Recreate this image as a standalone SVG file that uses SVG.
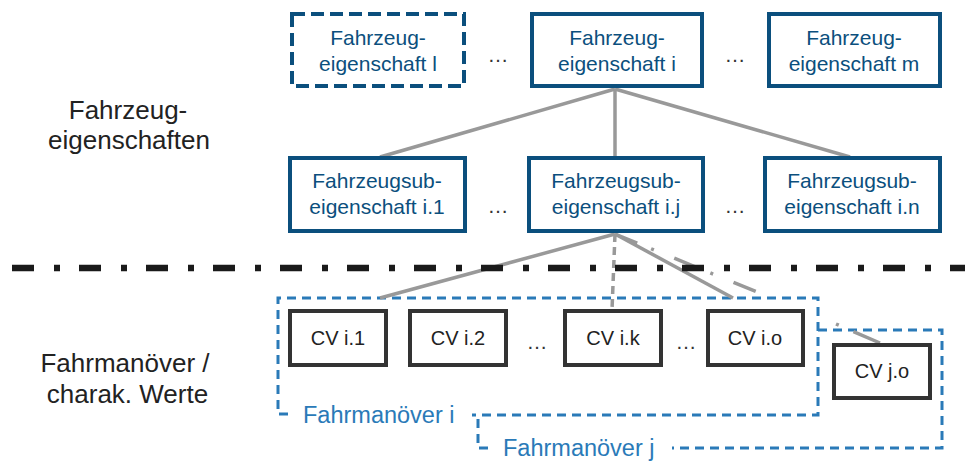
<svg xmlns="http://www.w3.org/2000/svg" width="965" height="461" viewBox="0 0 965 461">
  <style>
    .prop rect { fill: #fff; stroke: #0b4f7d; stroke-width: 4; }
    .prop text { fill: #0b4f7d; font-family: "Liberation Sans", Arial, sans-serif; font-size: 21px; text-anchor: middle; }
    .dashed rect { stroke-dasharray: 13 6; }
    .cv rect { fill: #fff; stroke: #333; stroke-width: 4; }
    .cv text { fill: #222; font-family: "Liberation Sans", Arial, sans-serif; font-size: 20px; text-anchor: middle; }
    .dots { fill: #333; font-family: "Liberation Sans", Arial, sans-serif; font-size: 21px; text-anchor: middle; }
    .side { fill: #222; font-family: "Liberation Sans", Arial, sans-serif; font-size: 26px; text-anchor: middle; }
    .maneuver { fill: none; stroke: #2a7ab8; stroke-width: 3; stroke-dasharray: 9 6; }
    .mlabel { fill: #2a7ab8; font-family: "Liberation Sans", Arial, sans-serif; font-size: 23.5px; }
    .link { fill: none; stroke: #999; stroke-width: 3.5; }
    .link.dash { stroke-dasharray: 8 5; }
    .link.dashdot { stroke-dasharray: 24 15 3 22; }
  </style>

  <rect width="965" height="461" fill="#fff"/>

  <!-- side labels -->
  <text class="side" x="128" y="119">Fahrzeug-</text>
  <text class="side" x="129" y="149">eigenschaften</text>
  <text class="side" x="125" y="372">Fahrmanöver /</text>
  <text class="side" x="127.5" y="403">charak. Werte</text>

  <!-- maneuver groupings -->
  <g id="fahrmanoever-i">
    <path class="maneuver" d="M288 414 H278 V298 H818 V415 H472"/>
    <text class="mlabel" x="303" y="423">Fahrmanöver i</text>
  </g>
  <g id="fahrmanoever-j">
    <path class="maneuver" d="M818 330 H942 V448 H672"/>
    <path class="maneuver" d="M488 448 H478 V417"/>
    <text class="mlabel" x="503" y="456">Fahrmanöver j</text>
  </g>

  <!-- connectors -->
  <g id="connectors">
    <line class="link" x1="615" y1="89" x2="380" y2="157"/>
    <line class="link" x1="615" y1="89" x2="615" y2="157"/>
    <line class="link" x1="615" y1="89" x2="850" y2="157"/>
    <line class="link" x1="615" y1="234" x2="380" y2="298"/>
    <line class="link dash" x1="615" y1="234" x2="612" y2="310"/>
    <line class="link" x1="615" y1="234" x2="733" y2="298"/>
    <!-- cross link i.j -> j.o, interrupted between the two maneuver frames -->
    <line class="link dashdot" x1="615" y1="234" x2="757" y2="292"/>
    <line class="link" x1="836" y1="324" x2="880" y2="343" stroke-dasharray="3 16 30"/>
  </g>

  <!-- level separator -->
  <line x1="12" y1="268" x2="965" y2="268" stroke="#1a1a1a" stroke-width="6.5" stroke-dasharray="22 20 6 19"/>

  <!-- vehicle properties -->
  <g id="prop-l" class="prop dashed">
    <rect x="292" y="14" width="172" height="72"/>
    <text x="378" y="45">Fahrzeug-</text>
    <text x="378" y="71">eigenschaft l</text>
  </g>
  <g id="prop-i" class="prop">
    <rect x="532" y="14" width="170" height="72"/>
    <text x="617" y="45">Fahrzeug-</text>
    <text x="617" y="71">eigenschaft i</text>
  </g>
  <g id="prop-m" class="prop">
    <rect x="769" y="14" width="171" height="72"/>
    <text x="854" y="45">Fahrzeug-</text>
    <text x="854" y="71">eigenschaft m</text>
  </g>
  <text class="dots" x="498" y="62">…</text>
  <text class="dots" x="735" y="62">…</text>

  <!-- sub-properties -->
  <g id="sub-i1" class="prop">
    <rect x="290" y="158" width="175" height="73"/>
    <text x="377" y="188">Fahrzeugsub-</text>
    <text x="377" y="214">eigenschaft i.1</text>
  </g>
  <g id="sub-ij" class="prop">
    <rect x="529" y="158" width="174" height="73"/>
    <text x="616" y="188">Fahrzeugsub-</text>
    <text x="616" y="214">eigenschaft i.j</text>
  </g>
  <g id="sub-in" class="prop">
    <rect x="765" y="158" width="175" height="73"/>
    <text x="852" y="188">Fahrzeugsub-</text>
    <text x="852" y="214">eigenschaft i.n</text>
  </g>
  <text class="dots" x="498" y="213">…</text>
  <text class="dots" x="735" y="213">…</text>

  <!-- characteristic values -->
  <g id="cv-i1" class="cv">
    <rect x="290" y="311" width="96" height="54"/>
    <text x="338" y="345">CV i.1</text>
  </g>
  <g id="cv-i2" class="cv">
    <rect x="410" y="311" width="96" height="54"/>
    <text x="458" y="345">CV i.2</text>
  </g>
  <g id="cv-ik" class="cv">
    <rect x="565" y="311" width="96" height="54"/>
    <text x="613" y="345">CV i.k</text>
  </g>
  <g id="cv-io" class="cv">
    <rect x="708" y="311" width="95" height="54"/>
    <text x="755" y="345">CV i.o</text>
  </g>
  <g id="cv-jo" class="cv">
    <rect x="834" y="345" width="96" height="53"/>
    <text x="882" y="378">CV j.o</text>
  </g>
  <text class="dots" x="537" y="349">…</text>
  <text class="dots" x="686" y="349">…</text>
</svg>
